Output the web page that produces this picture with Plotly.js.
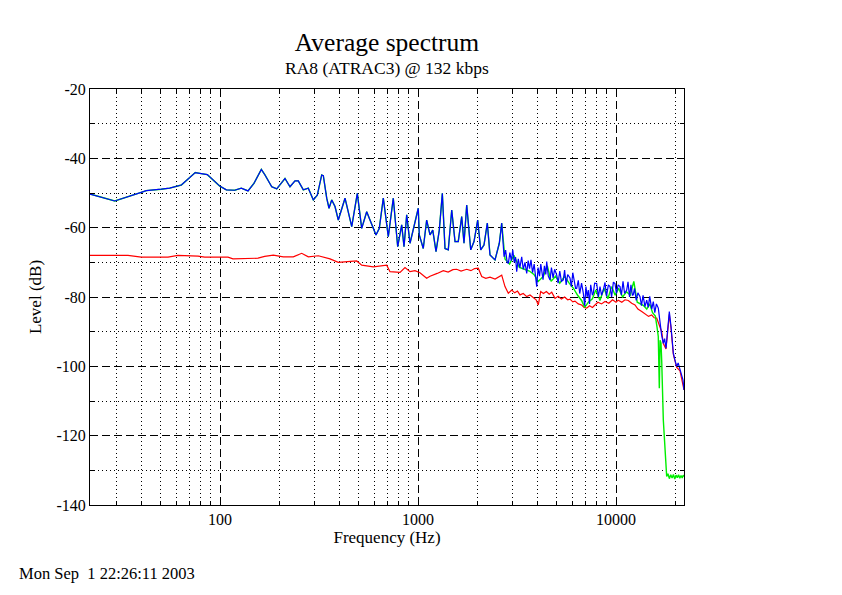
<!DOCTYPE html>
<html>
<head>
<meta charset="utf-8">
<script src="https://cdn.plot.ly/plotly-3.0.1.min.js"></script>
<style>html,body{margin:0;padding:0;background:#fff;}#chart{width:842px;height:595px;}</style>
</head>
<body>
<div id="chart"></div>
<script>
// Shared low/mid-frequency part (blue and green coincide here)
var lowFreq = [22.05, 29.4, 40.0, 42.4, 50.5, 55.7, 63.8, 75.0, 80.4, 86.3, 99.7, 107.6, 118.6, 128.1, 138.5, 148.5, 161.7, 168.7, 182.5, 193.4, 212.9, 225.7, 239.2, 248.5, 263.5, 279.2, 296.0, 310.1, 326.3, 332.5, 345.9, 355.3, 366.6, 380.9, 395.8, 427.9, 462.7, 493.7, 519.6, 550.7, 572.2, 613.5, 637.6, 667.9, 707.9, 750.3, 789.6, 827.2, 849.8, 876.8, 911.2, 965.6, 1003, 1015, 1063, 1106, 1150, 1187, 1233, 1281, 1327, 1369, 1422, 1480, 1538, 1597, 1662, 1707, 1762, 1846, 1918, 2002, 2073, 2154, 2239, 2310, 2449, 2574, 2647];
var lowLevel = [-50.3, -52.3, -49.8, -49.3, -48.9, -48.6, -47.7, -44.1, -44.4, -44.7, -48.0, -49.1, -49.2, -48.6, -49.4, -47.2, -43.2, -44.8, -48.2, -48.8, -45.8, -48.2, -46.5, -46.5, -49.1, -48.6, -52.0, -50.6, -44.8, -45.0, -51.5, -54.4, -52.0, -53.9, -57.8, -51.5, -59.7, -50.1, -60.2, -55.4, -57.8, -62.1, -60.2, -51.5, -62.6, -51.5, -65.5, -59.2, -65.5, -56.3, -64.5, -58.7, -54.4, -62.1, -66.0, -57.8, -62.1, -60.7, -66.9, -60.7, -50.1, -66.0, -66.4, -54.9, -64.0, -64.0, -56.8, -64.5, -53.5, -66.4, -64.0, -57.8, -66.4, -65.0, -58.7, -67.9, -69.3, -64.5, -58.7];

// Blue high-frequency part
var blueHighFreq = [2720, 2770, 2820, 2860, 2910, 2960, 3010, 3060, 3110, 3150, 3210, 3270, 3340, 3400, 3470, 3540, 3600, 3660, 3720, 3790, 3860, 3920, 3977, 4040, 4110, 4170, 4214, 4280, 4350, 4420, 4467, 4550, 4642, 4720, 4810, 4900, 5019, 5100, 5200, 5300, 5418, 5500, 5600, 5700, 5855, 5950, 6050, 6150, 6250, 6329, 6450, 6560, 6700, 6836, 6950, 7050, 7150, 7246, 7350, 7450, 7600, 7680, 7800, 7990, 8150, 8300, 8450, 8627, 8800, 8950, 9150, 9327, 9500, 9700, 9883, 10050, 10250, 10476, 10650, 10850, 11050, 11324, 11500, 11700, 11900, 12100, 12227, 12400, 12650, 12900, 13221, 13450, 13700, 14000, 14289, 14550, 14800, 15150, 15430, 15700, 16000, 16355, 16500, 16682, 17000, 17336, 17600, 17888, 18200, 18590, 18958, 19200, 19475, 19800, 20256, 20600, 21049, 21470, 21800, 22050];
var blueHighLevel = [-68.4, -66.5, -70.0, -70.3, -67.2, -69.5, -66.4, -70.0, -68.5, -72.7, -69.0, -71.5, -68.4, -72.0, -70.0, -73.2, -69.5, -71.8, -69.3, -73.0, -70.5, -74.5, -77.0, -71.5, -74.0, -70.5, -72.2, -75.0, -71.0, -73.5, -69.8, -74.0, -75.1, -71.5, -74.5, -72.0, -73.7, -76.0, -72.5, -75.5, -75.1, -72.2, -76.5, -73.5, -74.5, -77.0, -73.0, -76.0, -77.5, -77.5, -75.2, -79.0, -76.0, -78.9, -82.5, -77.0, -80.0, -78.0, -82.0, -76.5, -79.5, -78.9, -76.0, -76.1, -80.0, -77.0, -79.5, -78.0, -75.8, -79.8, -76.5, -77.0, -80.0, -75.7, -76.1, -79.0, -76.5, -77.0, -79.5, -75.5, -79.0, -78.0, -75.6, -80.0, -76.5, -79.5, -79.4, -77.5, -81.0, -78.8, -79.9, -82.5, -79.5, -82.8, -80.9, -83.0, -79.8, -83.5, -81.3, -84.5, -82.0, -83.2, -85.0, -87.6, -91.0, -93.4, -92.0, -94.8, -90.0, -84.2, -88.5, -93.0, -96.2, -98.0, -100.1, -99.0, -101.1, -102.5, -104.0, -106.8];

// Green high-frequency part
var greenHighFreq = [2750, 2900, 3050, 3250, 3450, 3650, 3850, 4050, 4300, 4500, 4700, 4950, 5200, 5500, 5800, 6100, 6400, 6700, 6950, 7250, 7600, 7900, 8300, 8700, 9100, 9500, 9900, 10300, 10800, 11300, 11800, 12300, 12800, 13300, 13800, 14300, 14800, 15300, 15800, 16106, 16350, 16548, 16700, 16876, 17010, 17336, 17680, 17888, 18030, 18300, 18600, 18900, 19200, 19500, 19800, 20100, 20400, 20700, 21000, 21300, 21600, 21850, 22050];
var greenHighLevel = [-69.0, -70.5, -68.0, -71.5, -72.0, -72.5, -73.5, -75.5, -74.0, -71.0, -75.5, -74.0, -76.0, -74.0, -76.0, -77.5, -79.5, -81.0, -83.0, -81.5, -80.5, -78.0, -81.0, -77.5, -80.5, -77.0, -79.5, -77.5, -80.0, -78.5, -79.5, -75.5, -81.5, -82.0, -82.5, -83.5, -82.0, -84.5, -85.5, -88.6, -91.4, -106.3, -92.5, -93.3, -98.2, -115.5, -123.2, -130.8, -131.8, -131.0, -132.4, -131.3, -132.2, -131.2, -132.5, -131.4, -132.1, -131.3, -132.3, -131.5, -132.2, -131.4, -131.8];

// Red series
var redFreq = [22.05, 34.3, 40.0, 54.6, 61.3, 77.4, 83.7, 109.7, 116.3, 133.2, 135.8, 155.6, 168.1, 185.9, 208.8, 234.5, 258.6, 279.2, 313.7, 359.4, 395.8, 490.3, 519.6, 594.7, 695, 722.1, 811.3, 859.7, 911.2, 965.6, 1023, 1060, 1106, 1150, 1195, 1250, 1342, 1420, 1500, 1568, 1650, 1762, 1850, 1930, 2016, 2098, 2200, 2310, 2450, 2550, 2647, 2750, 2858, 2973, 3080, 3180, 3274, 3400, 3540, 3680, 3822, 3950, 4051, 4166, 4300, 4450, 4600, 4735, 4920, 5100, 5300, 5500, 5700, 5855, 6050, 6206, 6450, 6709, 6900, 7112, 7350, 7600, 7833, 8100, 8450, 8800, 9200, 9600, 10000, 10270, 10700, 11100, 11538, 12000, 12470, 12900, 13486, 14000, 14600, 15148, 15600, 16054, 16500, 17010, 17336, 17888, 18590, 18958, 19475, 20256, 21049, 22050];
var redLevel = [-68.0, -68.0, -68.5, -68.5, -68.0, -68.2, -68.5, -68.5, -69.0, -69.0, -68.8, -68.8, -68.3, -67.9, -68.4, -68.4, -67.4, -68.4, -68.1, -69.0, -70.0, -69.6, -70.8, -71.3, -70.8, -72.7, -72.9, -71.5, -72.7, -72.4, -73.0, -73.8, -74.6, -74.0, -73.7, -73.2, -72.4, -72.8, -72.1, -72.0, -72.5, -72.0, -72.4, -71.8, -71.7, -74.1, -74.6, -74.3, -74.8, -74.2, -73.7, -77.0, -78.9, -78.0, -78.8, -78.3, -79.4, -79.0, -79.9, -79.4, -80.2, -80.8, -82.3, -78.4, -79.0, -78.4, -79.2, -78.6, -80.4, -79.8, -80.6, -80.0, -80.8, -80.6, -81.4, -81.2, -82.0, -82.3, -83.0, -83.2, -82.5, -83.0, -82.3, -81.5, -82.0, -81.3, -81.8, -80.8, -81.5, -80.9, -81.5, -80.8, -81.0, -81.8, -82.3, -83.5, -84.2, -84.8, -85.6, -85.2, -86.0, -86.1, -88.0, -90.0, -93.4, -95.0, -85.0, -89.0, -96.5, -100.3, -101.3, -106.8];

// Axis ticks
var xMajorTicks = [100, 1000, 10000];
var xMajorLabels = ['100', '1000', '10000'];
var xMinorTicks = [30, 40, 50, 60, 70, 80, 90, 200, 300, 400, 500, 600, 700, 800, 900, 2000, 3000, 4000, 5000, 6000, 7000, 8000, 9000, 20000];
var yMajorTicks = [-140, -120, -100, -80, -60, -40, -20];
var yMajorLabels = ['-140', '-120', '-100', '-80', '-60', '-40', '-20'];
var yMinorTicks = [-130, -110, -90, -70, -50, -30];

var serif = 'Liberation Serif, Times New Roman, serif';

var traces = [
  {x: redFreq, y: redLevel, type: 'scatter', mode: 'lines', line: {color: '#ff0000', width: 1.2}, hoverinfo: 'skip'},
  {x: lowFreq.concat(greenHighFreq), y: lowLevel.concat(greenHighLevel), type: 'scatter', mode: 'lines', line: {color: '#00ee00', width: 1.4}, hoverinfo: 'skip'},
  {x: lowFreq.concat(blueHighFreq), y: lowLevel.concat(blueHighLevel), type: 'scatter', mode: 'lines', line: {color: '#0000ff', width: 1.2}, hoverinfo: 'skip'}
];

var axisCommon = {
  showline: true, linecolor: '#000', linewidth: 1, mirror: 'ticks',
  ticks: 'inside', ticklen: 7, tickcolor: '#000', tickwidth: 1,
  showgrid: true, gridcolor: '#000', gridwidth: 1, griddash: '8px,4px',
  zeroline: false,
  tickfont: {family: serif, size: 16, color: '#000'}
};

var layout = {
  width: 842, height: 595,
  margin: {l: 90, r: 158, t: 89, b: 90},
  paper_bgcolor: '#fff', plot_bgcolor: '#fff',
  showlegend: false,
  font: {family: serif, color: '#000'},
  title: {text: 'Average spectrum', font: {family: serif, size: 25.5, color: '#000'},
          x: 387/842, xref: 'container', xanchor: 'center', y: 1 - 42/595, yref: 'container', yanchor: 'middle'},
  xaxis: Object.assign({}, axisCommon, {
    type: 'log', range: [Math.log10(22.05), Math.log10(22050)],
    tickmode: 'array', tickvals: xMajorTicks, ticktext: xMajorLabels,
    minor: {tickmode: 'array', tickvals: xMinorTicks, ticks: 'inside', ticklen: 4, tickcolor: '#000',
            showgrid: true, gridcolor: '#000', gridwidth: 1, griddash: '1px,3px'},
    title: {text: 'Frequency (Hz)', font: {family: serif, size: 17, color: '#000'}, standoff: 3}
  }),
  yaxis: Object.assign({}, axisCommon, {
    range: [-140, -20],
    tickmode: 'array', tickvals: yMajorTicks, ticktext: yMajorLabels,
    minor: {tickmode: 'array', tickvals: yMinorTicks, ticks: 'inside', ticklen: 4, tickcolor: '#000',
            showgrid: true, gridcolor: '#000', gridwidth: 1, griddash: '1px,3px'},
    title: {text: 'Level (dB)', font: {family: serif, size: 17, color: '#000'}, standoff: 10}
  }),
  annotations: [
    {text: 'RA8 (ATRAC3) @ 132 kbps', xref: 'paper', yref: 'paper', x: 0.5, y: (595 - 68 - 90) / 416,
     xanchor: 'center', yanchor: 'middle', showarrow: false, font: {family: serif, size: 17.5, color: '#000'}},
    {text: 'Mon Sep\u00a0\u00a01 22:26:11 2003', xref: 'paper', yref: 'paper', x: -73/594, y: (595 - 573 - 90) / 416,
     xanchor: 'left', yanchor: 'middle', showarrow: false, font: {family: serif, size: 16.5, color: '#000'}}
  ]
};

Plotly.newPlot('chart', traces, layout, {displayModeBar: false, staticPlot: true});
</script>
</body>
</html>
